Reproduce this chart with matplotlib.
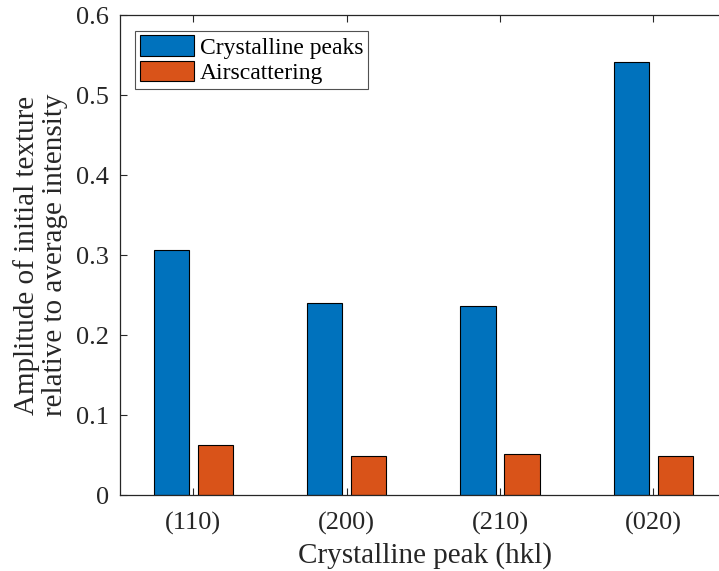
import matplotlib
matplotlib.use("Agg")
import matplotlib.pyplot as plt
import numpy as np

categories = ["(110)", "(200)", "(210)", "(020)"]
crystalline = [0.3065, 0.2405, 0.2365, 0.541]
airscatter = [0.0623, 0.0490, 0.0507, 0.0490]
series_names = ["Crystalline peaks", "Airscattering"]
colors = ["#0072BD", "#D95319"]
yticks = [0, 0.1, 0.2, 0.3, 0.4, 0.5, 0.6]

plt.rcParams["font.family"] = ["Liberation Serif", "DejaVu Serif"]
axis_col = "#262626"

fig = plt.figure(figsize=(7.19, 5.71), dpi=100)
ax = fig.add_axes([120 / 719, 76 / 571, 610 / 719, 480 / 571])

x = np.arange(1, len(categories) + 1)
offset = 0.144
width = 0.23
ax.bar(x - offset, crystalline, width, color=colors[0], edgecolor="black",
       linewidth=0.8, label=series_names[0])
ax.bar(x + offset, airscatter, width, color=colors[1], edgecolor="black",
       linewidth=0.8, label=series_names[1])

ax.set_xlim(0.522, 4.5)
ax.set_ylim(0, 0.6)
ax.set_xticks(x)
ax.set_xticklabels(categories)
ax.set_yticks(yticks)
ax.set_yticklabels(["0", "0.1", "0.2", "0.3", "0.4", "0.5", "0.6"])

for s in ax.spines.values():
    s.set_color(axis_col)
    s.set_linewidth(0.9)
ax.tick_params(direction="in", length=5, width=0.8, colors=axis_col,
               labelsize=19, top=True, right=True, pad=8)
ax.tick_params(axis="x", pad=12)

ax.set_xlabel("Crystalline peak (hkl)", fontsize=21, color=axis_col, labelpad=5)
ax.set_ylabel("Amplitude of initial texture\nrelative to average intensity",
              fontsize=21, color=axis_col, labelpad=6, linespacing=1.1)

leg = ax.legend(loc="upper left", bbox_to_anchor=(15 / 610, 1 - 15.5 / 480),
                fontsize=17, frameon=True, fancybox=False, edgecolor=axis_col,
                handlelength=2.3, handleheight=0.95, handletextpad=0.25,
                borderpad=0.2, labelspacing=0.1, borderaxespad=0)
leg.get_frame().set_linewidth(0.8)

fig.savefig("out.png", dpi=100)
